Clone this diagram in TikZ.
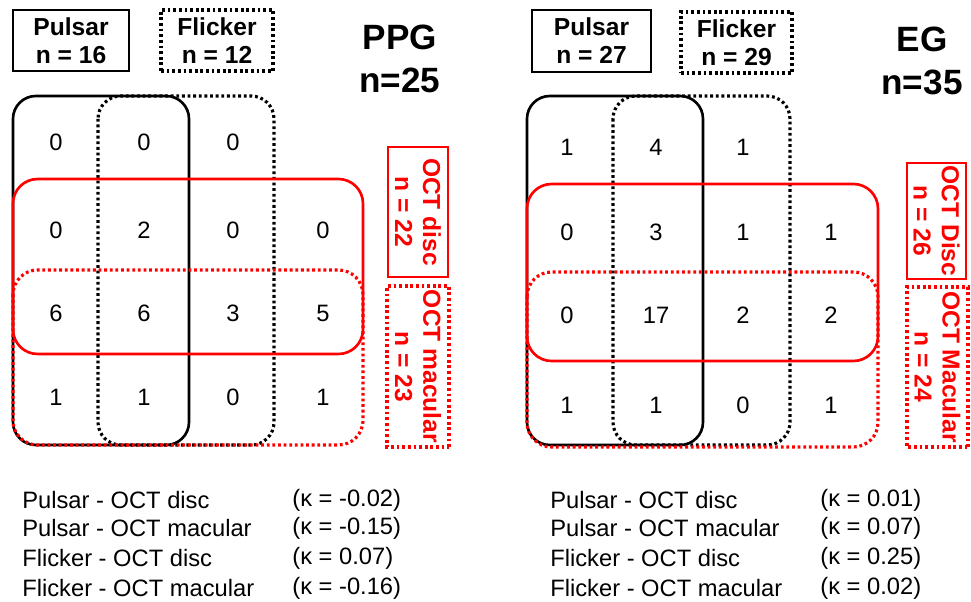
\documentclass[tikz,border=0pt]{standalone}
\usepackage{fontspec}
\setmainfont{Liberation Sans}
\usetikzlibrary{positioning,fit}

\tikzset{
	dotline/.style = {line width=1.8pt, dash pattern=on 1.6pt off 1.6pt},
	setline/.style = {line width=1.5pt, rounded corners=13pt},
	keybox/.style = {draw, line width=1.5pt, inner sep=0pt, align=center,
		font=\bfseries\fontsize{14}{16}\selectfont},
	octbox/.style = {keybox, red, rotate=-90},
	groupname/.style = {align=center, font=\bfseries\fontsize{20}{24.5}\selectfont},
	cellnum/.style = {font=\fontsize{13.5}{15}\selectfont},
	kappaline/.style = {anchor=west, inner sep=0pt, font=\fontsize{13.5}{15}\selectfont}
}

\begin{document}
\begin{tikzpicture}[x=0.02cm, y=-0.02cm]
	\useasboundingbox (0,0) rectangle (971,602);

	% PPG panel
	\node[keybox, minimum width=2.32cm, minimum height=1.22cm] (ppgP) at (71,40.5) {Pulsar\\n = 16};
	\node[keybox, dotline, minimum width=2.24cm, minimum height=1.22cm] (ppgF) at (217,40.5) {Flicker\\n = 12};
	\node[groupname] (ppgT) at (400,58.5) {PPG\\n=25};

	\draw[setline] (13,96) rectangle (189,445);
	\draw[setline, dotline] (98,96) rectangle (274,445);
	\draw[setline, red, rounded corners=14pt] (13,179) rectangle (363,354);
	\draw[setline, red, dotline, rounded corners=14pt] (13,270) rectangle (363,445);

	\node[octbox, minimum width=2.6cm, minimum height=1.2cm] (ppgD) at (418,212) {OCT disc\\n = 22};
	\node[octbox, dotline, minimum width=3.22cm, minimum height=1.24cm] (ppgM) at (418,366.5) {OCT macular\\n = 23};

	\foreach \r/\y/\vals in {1/142/{0,0,0}, 2/230/{0,2,0,0}, 3/313/{6,6,3,5}, 4/397/{1,1,0,1}}
		\foreach \v [count=\c] in \vals {
			\pgfmathsetmacro\xc{{56,144,233,323}[\c-1]}
			\node[cellnum] (ppg-\r-\c) at (\xc,\y) {\v};
		}

	% EG panel
	\node[keybox, minimum width=2.38cm, minimum height=1.24cm] (egP) at (591.5,41) {Pulsar\\n = 27};
	\node[keybox, dotline, minimum width=2.22cm, minimum height=1.22cm] (egF) at (736.5,42.5) {Flicker\\n = 29};
	\node[groupname] (egT) at (922,60.5) {EG\\n=35};

	\draw[setline] (527,96) rectangle (703,445);
	\draw[setline, dotline] (613,96) rectangle (790,445);
	\draw[setline, red, rounded corners=14pt] (527,184) rectangle (878,361);
	\draw[setline, red, dotline, rounded corners=14pt] (527,272) rectangle (878,447);

	\node[octbox, minimum width=2.32cm, minimum height=1.18cm] (egD) at (936.5,221) {OCT Disc\\n = 26};
	\node[octbox, dotline, minimum width=3.2cm, minimum height=1.22cm] (egM) at (937.5,367) {OCT Macular\\n = 24};

	\foreach \r/\y/\vals in {1/147/{1,4,1}, 2/232/{0,3,1,1}, 3/315/{0,17,2,2}, 4/405/{1,1,0,1}}
		\foreach \v [count=\c] in \vals {
			\pgfmathsetmacro\xc{{567,656,743,831}[\c-1]}
			\node[cellnum] (eg-\r-\c) at (\xc,\y) {\v};
		}

	% agreement
	\foreach \t/\k/\y [count=\i] in {Pulsar - OCT disc/-0.02/500, Pulsar - OCT macular/-0.15/528,
		Flicker - OCT disc/0.07/558, Flicker - OCT macular/-0.16/588} {
		\node[kappaline] (ppgL\i) at (22,\y) {\t};
		\node[kappaline] (ppgK\i) at (292,\y) {(κ = \k)};
	}
	\foreach \t/\k/\y [count=\i] in {Pulsar - OCT disc/0.01/500, Pulsar - OCT macular/0.07/528,
		Flicker - OCT disc/0.25/558, Flicker - OCT macular/0.02/588} {
		\node[kappaline] (egL\i) at (550,\y) {\t};
		\node[kappaline] (egK\i) at (820,\y) {(κ = \k)};
	}
\end{tikzpicture}
\end{document}
